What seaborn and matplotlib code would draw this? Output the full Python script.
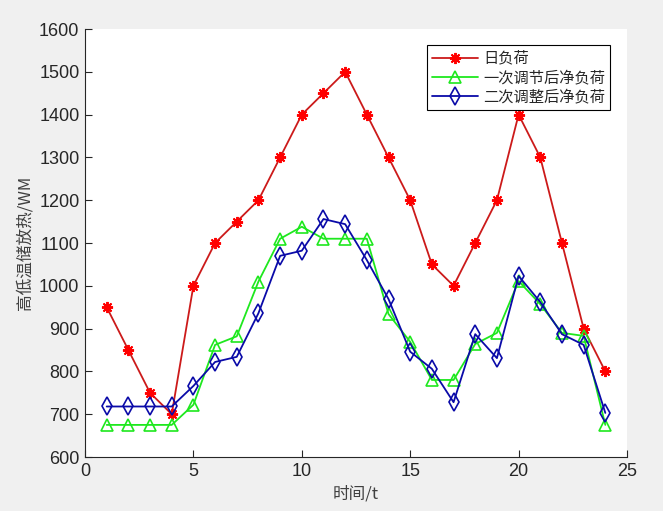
import matplotlib
matplotlib.use("Agg")
import matplotlib.pyplot as plt
import seaborn as sns
import pandas as pd

hours = list(range(1, 25))
daily_load = [950, 850, 750, 700, 1000, 1100, 1150, 1200, 1300, 1400, 1450, 1500,
              1400, 1300, 1200, 1050, 1000, 1100, 1200, 1400, 1300, 1100, 900, 800]
first_adj = [675, 675, 675, 675, 722, 862, 882, 1010, 1110, 1138, 1110, 1110,
             1110, 934, 869, 780, 780, 864, 890, 1011, 957, 890, 883, 675]
second_adj = [718, 718, 718, 718, 766, 822, 834, 936, 1070, 1082, 1156, 1144,
              1060, 969, 846, 806, 728, 887, 831, 1023, 962, 887, 862, 703]
series_names = ["日负荷", "一次调节后净负荷", "二次调整后净负荷"]
x_ticks = [0, 5, 10, 15, 20, 25]
y_ticks = [600, 700, 800, 900, 1000, 1100, 1200, 1300, 1400, 1500, 1600]

df = pd.DataFrame({
    "t": hours * 3,
    "value": daily_load + first_adj + second_adj,
    "series": [series_names[0]] * 24 + [series_names[1]] * 24 + [series_names[2]] * 24,
})

sns.set_theme(style="white")
plt.rcParams["font.family"] = ["Liberation Sans", "Noto Sans CJK SC", "DejaVu Sans"]

fig = plt.figure(figsize=(6.63, 5.11), dpi=100, facecolor="#f0f0f0")
ax = fig.add_axes([85/663, 54/511, 542/663, 428/511])
ax.set_facecolor("white")

styles = {
    series_names[0]: dict(color="#cc1a1a", marker=(8, 2, 0), mfc="red", mec="red", ms=8, mew=1.4),
    series_names[1]: dict(color="#1ee81e", marker="^", mfc="none", mec="#1ee81e", ms=9, mew=1.2),
    series_names[2]: dict(color="#0a0aa8", marker="d", mfc="none", mec="#0a0aa8", ms=9, mew=1.2),
}
for name in series_names:
    st = styles[name]
    sns.lineplot(data=df[df["series"] == name], x="t", y="value", ax=ax,
                 color=st["color"], marker=st["marker"], markersize=st["ms"],
                 markerfacecolor=st["mfc"], markeredgecolor=st["mec"],
                 markeredgewidth=st["mew"], linewidth=1.3, label=name)

ax.set_xlim(0, 25)
ax.set_ylim(600, 1600)
ax.set_xticks(x_ticks)
ax.set_yticks(y_ticks)
ax.tick_params(direction="in", length=5, width=0.8, colors="#262626", labelsize=13,
               top=False, right=False, bottom=True, left=True, pad=4)
for s in ["top", "right"]:
    ax.spines[s].set_visible(False)
for s in ["left", "bottom"]:
    ax.spines[s].set_color("#262626")
    ax.spines[s].set_linewidth(0.8)

ax.set_xlabel("时间/t", fontsize=12, color="#404040", family=["Noto Sans CJK SC", "DejaVu Sans"])
ax.set_ylabel("高低温储放热/WM", fontsize=12, color="#404040", family=["Noto Sans CJK SC", "DejaVu Sans"])

leg = ax.legend(loc="upper right", bbox_to_anchor=(0.969, 0.962), frameon=True, fancybox=False,
                edgecolor="black", framealpha=1, borderpad=0.3, labelspacing=0.15,
                handlelength=3.0, handletextpad=0.4, borderaxespad=0,
                prop={"family": ["Noto Sans CJK SC", "DejaVu Sans"], "size": 11})
leg.get_frame().set_linewidth(0.8)

fig.savefig("out.png", dpi=100, facecolor=fig.get_facecolor())
